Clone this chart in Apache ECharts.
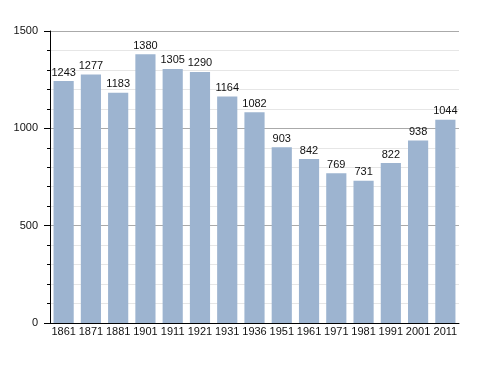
<!DOCTYPE html>
<html><head><meta charset="utf-8">
<script src="https://cdn.jsdelivr.net/npm/echarts@6/dist/echarts.min.js"></script>
<style>html,body{margin:0;padding:0;background:#fff}#c{width:488px;height:373px}</style>
</head><body><div id="c"></div>
<script>
const years = ['1861','1871','1881','1901','1911','1921','1931','1936','1951','1961','1971','1981','1991','2001','2011'];
const population = [1243,1277,1183,1380,1305,1290,1164,1082,903,842,769,731,822,938,1044];
const yTicks = [0,500,1000,1500];

const chart = echarts.init(document.getElementById('c'), null, {renderer:'canvas'});
const font = 'Liberation Sans, Arial, sans-serif';
chart.setOption({
  animation:false,
  grid:{left:50,right:29,top:31,bottom:50,containLabel:false},
  xAxis:{type:'category',data:years,
    axisLine:{lineStyle:{color:'#000',width:1}},
    axisTick:{show:false},
    axisLabel:{color:'#111',fontSize:11,fontFamily:font,margin:3,interval:0}},
  yAxis:[{type:'value',min:0,max:1500,interval:500,
    axisLine:{show:true,lineStyle:{color:'#000',width:1}},
    axisTick:{show:true,length:6,lineStyle:{color:'#000'}},
    minorTick:{show:true,splitNumber:5,length:3,lineStyle:{color:'#000'}},
    splitLine:{show:true,lineStyle:{color:'#aaa',width:1}},
    minorSplitLine:{show:true,lineStyle:{color:'#e6e6e6',width:1}},
    axisLabel:{color:'#111',fontSize:11,fontFamily:font,margin:12,
      formatter:v=>yTicks.includes(v)?String(v):''}}],
  series:[{type:'bar',data:population,barCategoryGap:'26%',
    itemStyle:{color:'#9db4d0'},
    label:{show:true,position:'top',distance:3,color:'#111',fontSize:11,fontFamily:font}}]
});
</script></body></html>
